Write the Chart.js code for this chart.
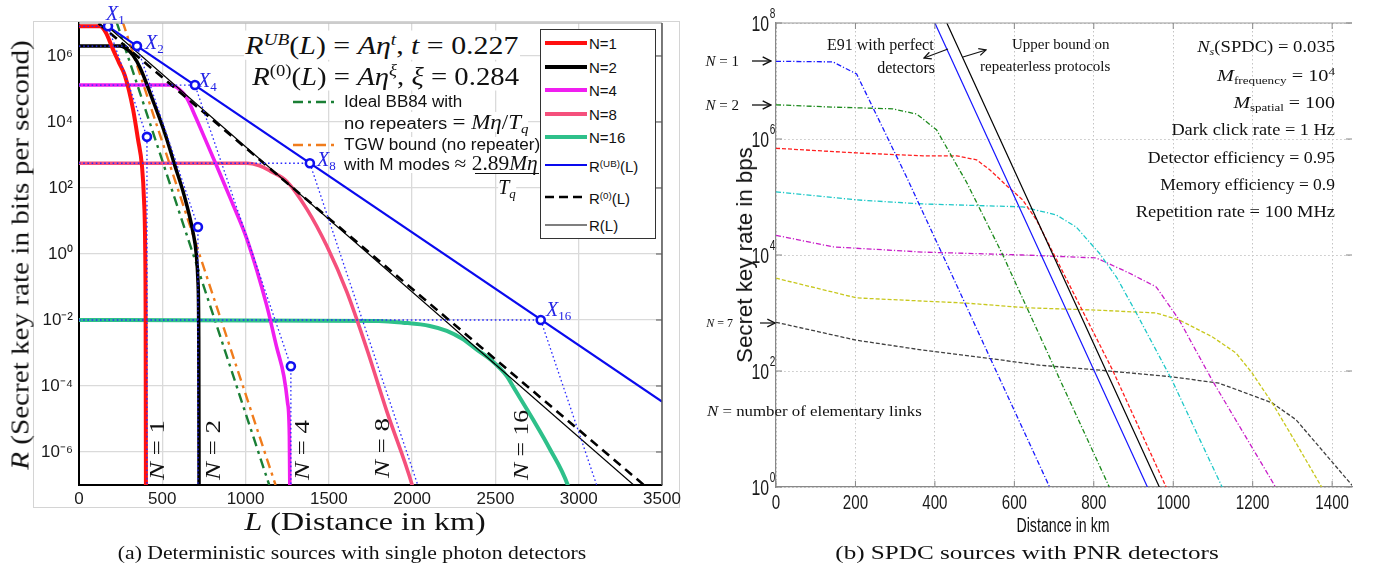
<!DOCTYPE html>
<html>
<head>
<meta charset="utf-8">
<script src="https://cdn.jsdelivr.net/npm/chart.js@4.4.1/dist/chart.umd.min.js"></script>
<style>
  body { margin: 0; background: #fff; }
  #fig { position: relative; width: 1373px; height: 571px; overflow: hidden; background: #fff; }
  #fig canvas { position: absolute; top: 0; }
  .t { position: absolute; white-space: nowrap; line-height: 1; color: #111; }
  .serif { font-family: "Liberation Serif", "DejaVu Serif", serif; }
  .sans { font-family: "Liberation Sans", Arial, sans-serif; }
  .ctr { transform: translate(-50%, -50%) scaleX(var(--sx, 1)); }
  .lft { transform-origin: left center; transform: translate(0, -50%) scaleX(var(--sx, 1)); }
  .rgt { transform-origin: right center; transform: translate(-100%, -50%) scaleX(var(--sx, 1)); }
  .rot { transform: translate(-50%, -50%) rotate(-90deg) scaleX(var(--sx, 1)); }
  .bg { background: #fff; }
  .blue { color: #2323e6; }
  sup, sub { font-size: 65%; line-height: 0; position: relative; vertical-align: baseline; }
  sup { top: -0.55em; }
  sub { top: 0.3em; }
  #frameA { position: absolute; left: 33px; top: 21px; width: 647px; height: 487px; border: 1px solid #d4d4d4; box-sizing: border-box; }
  #legA { position: absolute; left: 540px; top: 29px; width: 116px; height: 210px; border: 1.3px solid #333; background: #fff; box-sizing: border-box; }
  svg { position: absolute; left: 0; top: 0; }
</style>
</head>
<body>
<div id="fig">
  <div id="frameA"></div>
  <canvas id="chartA" width="690" height="571" style="left:0"></canvas>
  <canvas id="chartB" width="683" height="571" style="left:690px"></canvas>

  <!-- panel (a) text -->
  <div class="t serif rot" data-w="430" style="left:20px;top:255px;font-size:25px"><i>R</i> (Secret key rate in bits per second)</div>
  <div class="t serif ctr" data-w="241" style="left:365px;top:521px;font-size:25px"><i>L</i> (Distance in km)</div>
  <div class="t serif ctr" data-w="468" style="left:352px;top:553px;font-size:19.5px">(a) Deterministic sources with single photon detectors</div>

  <div class="t serif lft bg" data-w="276" style="left:244px;top:45px;font-size:25px;padding:2px 1px"><i>R</i><sup><i>UB</i></sup>(<i>L</i>) = <i>Aη</i><sup><i>t</i></sup>, <i>t</i> = 0.227</div>
  <div class="t serif lft bg" data-w="269" style="left:251px;top:76px;font-size:25px;padding:2px 1px"><i>R</i><sup>(0)</sup>(<i>L</i>) = <i>Aη</i><sup><i>ξ</i></sup>, <i>ξ</i> = 0.284</div>
  <div class="t sans lft bg" data-w="118" style="left:344px;top:102px;font-size:16px">Ideal BB84 with</div>
  <div class="t sans lft bg" data-w="184" style="left:344px;top:122px;font-size:16px">no repeaters <span class="serif" style="font-size:20px">= <i>Mη</i>/<i>T<sub>q</sub></i></span></div>
  <div class="t sans lft bg" data-w="196" style="left:344px;top:145px;font-size:16px">TGW bound (no repeater)</div>
  <div class="t sans lft bg" data-w="194" style="left:344px;top:163px;font-size:16px">with M modes <span class="serif" style="font-size:20px">≈ 2.89<i>Mη</i></span></div>
  <div style="position:absolute;left:475px;top:173px;width:64px;height:1px;background:#111"></div>
  <div class="t serif ctr bg" style="left:507px;top:187px;font-size:20px"><i>T<sub>q</sub></i></div>

  <div id="legA"></div>
  <div class="t sans lft" style="left:589px;top:43px;font-size:15px">N=1</div>
  <div class="t sans lft" style="left:589px;top:67px;font-size:15px">N=2</div>
  <div class="t sans lft" style="left:589px;top:90px;font-size:15px">N=4</div>
  <div class="t sans lft" style="left:589px;top:114px;font-size:15px">N=8</div>
  <div class="t sans lft" style="left:589px;top:137px;font-size:15px">N=16</div>
  <div class="t sans lft" style="left:589px;top:166px;font-size:15px">R<sup>(UB)</sup>(L)</div>
  <div class="t sans lft" style="left:589px;top:198px;font-size:15px">R<sup>(0)</sup>(L)</div>
  <div class="t sans lft" style="left:589px;top:225px;font-size:15px">R(L)</div>

  <div class="t serif lft blue" style="left:106px;top:13px;font-size:20px"><i>X</i><sub>1</sub></div>
  <div class="t serif lft blue" style="left:145px;top:42px;font-size:20px"><i>X</i><sub>2</sub></div>
  <div class="t serif lft blue" style="left:198px;top:80px;font-size:20px"><i>X</i><sub>4</sub></div>
  <div class="t serif lft blue" style="left:317px;top:159px;font-size:20px"><i>X</i><sub>8</sub></div>
  <div class="t serif lft blue" style="left:546px;top:309px;font-size:20px"><i>X</i><sub>16</sub></div>

  <div class="t serif rot" data-w="60" style="left:157px;top:450px;font-size:22px"><i>N</i>&nbsp;= 1</div>
  <div class="t serif rot" data-w="60" style="left:213px;top:450px;font-size:22px"><i>N</i>&nbsp;= 2</div>
  <div class="t serif rot" data-w="60" style="left:302px;top:450px;font-size:22px"><i>N</i>&nbsp;= 4</div>
  <div class="t serif rot" data-w="60" style="left:382px;top:448px;font-size:22px"><i>N</i>&nbsp;= 8</div>
  <div class="t serif rot" data-w="70" style="left:521px;top:445px;font-size:22px"><i>N</i>&nbsp;= 16</div>

  <!-- panel (b) text -->
  <div class="t sans rot" data-w="216" style="left:745px;top:255px;font-size:22px">Secret key rate in bps</div>
  <div class="t sans ctr" data-w="93" style="left:1063px;top:525px;font-size:20px">Distance in km</div>
  <div class="t serif ctr" data-w="383" style="left:1027px;top:553px;font-size:19.5px">(b) SPDC sources with PNR detectors</div>

  <div class="t serif rgt" style="left:739px;top:61px;font-size:15px"><i>N</i> = 1</div>
  <div class="t serif rgt" style="left:739px;top:105px;font-size:15px"><i>N</i> = 2</div>
  <div class="t serif rgt" style="left:733px;top:323px;font-size:12px"><i>N</i> = 7</div>
  <div class="t serif lft" style="left:827px;top:45px;font-size:16px">E91 with perfect</div>
  <div class="t serif rgt" style="left:935px;top:68px;font-size:16px">detectors</div>
  <div class="t serif lft" style="left:1012px;top:44px;font-size:15px">Upper bound on</div>
  <div class="t serif lft" style="left:980px;top:66px;font-size:15px">repeaterless protocols</div>
  <div class="t serif lft" data-w="215" style="left:707px;top:411px;font-size:15.5px"><i>N</i> = number of elementary links</div>

  <div class="t serif rgt" data-w="138" style="left:1335px;top:46px;font-size:17px"><i>N<sub>s</sub></i>(SPDC) = 0.035</div>
  <div class="t serif rgt" data-w="118" style="left:1335px;top:75px;font-size:17px"><i>M</i><sub>frequency</sub> = 10<sup>4</sup></div>
  <div class="t serif rgt" data-w="102" style="left:1335px;top:102px;font-size:17px"><i>M</i><sub>spatial</sub> = 100</div>
  <div class="t serif rgt" data-w="164" style="left:1335px;top:129px;font-size:17px">Dark click rate = 1 Hz</div>
  <div class="t serif rgt" data-w="187" style="left:1335px;top:157px;font-size:17px">Detector efficiency = 0.95</div>
  <div class="t serif rgt" data-w="175" style="left:1335px;top:184px;font-size:17px">Memory efficiency = 0.9</div>
  <div class="t serif rgt" data-w="199" style="left:1335px;top:211px;font-size:17px">Repetition rate = 100 MHz</div>

  <svg width="1373" height="571">
    <defs>
      <marker id="arr" viewBox="0 0 10 10" refX="9" refY="5" markerWidth="8" markerHeight="8" orient="auto-start-reverse">
        <path d="M1,1 L9,5 L1,9" fill="none" stroke="#111" stroke-width="1.4"/>
      </marker>
    </defs>
    <!-- legend samples, panel (a) -->
    <line x1="545" y1="43" x2="587" y2="43" stroke="#ff1010" stroke-width="4"/>
    <line x1="545" y1="67" x2="587" y2="67" stroke="#000" stroke-width="4"/>
    <line x1="545" y1="90" x2="587" y2="90" stroke="#f01ef0" stroke-width="4"/>
    <line x1="545" y1="114" x2="587" y2="114" stroke="#f5507c" stroke-width="4"/>
    <line x1="545" y1="137" x2="587" y2="137" stroke="#2ec08a" stroke-width="4"/>
    <line x1="545" y1="165" x2="587" y2="165" stroke="#0a0aee" stroke-width="2"/>
    <line x1="545" y1="197" x2="587" y2="197" stroke="#000" stroke-width="2.5" stroke-dasharray="9 5"/>
    <line x1="545" y1="225" x2="587" y2="225" stroke="#000" stroke-width="1.2"/>
    <line x1="293" y1="102" x2="339" y2="102" stroke="#1a7f35" stroke-width="2.5" stroke-dasharray="10 5 3 5"/>
    <line x1="293" y1="145" x2="339" y2="145" stroke="#f07c1c" stroke-width="2.5" stroke-dasharray="10 5 3 5"/>
    <!-- arrows, panel (b) -->
    <line x1="752" y1="61" x2="771" y2="61" stroke="#111" stroke-width="1.3" marker-end="url(#arr)"/>
    <line x1="752" y1="105" x2="771" y2="105" stroke="#111" stroke-width="1.3" marker-end="url(#arr)"/>
    <line x1="760" y1="323" x2="775" y2="323" stroke="#111" stroke-width="1.2" marker-end="url(#arr)"/>
    <line x1="948" y1="49" x2="924" y2="58" stroke="#111" stroke-width="1.1" marker-end="url(#arr)"/>
    <line x1="963" y1="57" x2="986" y2="50" stroke="#111" stroke-width="1.1" marker-end="url(#arr)"/>
  </svg>
</div>

<script>
// ---------- panel (a): deterministic sources, single photon detectors ----------
// distance in km, rate given as log10(bits per second)
const xTicksA = [0, 500, 1000, 1500, 2000, 2500, 3000, 3500];
const yTicksA = [-6, -4, -2, 0, 2, 4, 6];

const n1Km  = [0, 126, 160, 204, 240, 276, 324, 354, 378, 390, 397, 400, 402];
const n1Log = [6.9, 6.9, 6.72, 6.2, 5.8, 5.4, 4.4, 3.48, 2.67, 1.67, 0.3, -2, -8];

const n2Km  = [0, 246, 290, 324, 366, 440, 516, 576, 630, 684, 704, 714, 719, 721];
const n2Log = [6.3, 6.3, 6.2, 6.02, 5.65, 4.7, 3.65, 2.67, 1.8, 0.67, 0.0, -0.8, -2.5, -8];

const n4Km  = [0, 546, 600, 648, 700, 760, 828, 920, 1008, 1128, 1188, 1230, 1252, 1263, 1267];
const n4Log = [5.12, 5.12, 5.0, 4.72, 4.15, 3.45, 2.65, 1.55, 0.45, -1.58, -2.85, -3.7, -4.5, -5.5, -8];

const n8Km  = [0, 1008, 1080, 1146, 1248, 1368, 1488, 1608, 1728, 1850, 2000, 2010];
const n8Log = [2.75, 2.75, 2.68, 2.52, 2.2, 1.36, 0.24, -1.15, -2.88, -4.8, -7.0, -7.2];

const n16Km  = [0, 1800, 1944, 2106, 2208, 2304, 2388, 2466, 2568, 2604, 2724, 2826, 2934, 2945];
const n16Log = [-2.0, -2.03, -2.08, -2.18, -2.33, -2.58, -2.9, -3.18, -3.7, -4.0, -5.0, -5.9, -7.0, -7.2];

const rubKm = [174, 3500],  rubLog = [6.9, -4.47];    // R^(UB)(L)
const r0Km  = [117, 3410],  r0Log  = [6.99, -7.08];   // R^(0)(L)
const rlKm  = [148, 3330],  rlLog  = [7.0, -7.0];     // R(L)
const bbKm  = [225, 1142],  bbLog  = [7.04, -7.0];    // ideal BB84
const tgwKm = [262, 1180],  tgwLog = [7.04, -7.0];    // TGW bound

// dotted single-link lines from each X point
const dot1Km  = [0, 174, 408, 408],    dot1Log  = [6.9, 6.9, 3.55, -8];
const dot2Km  = [0, 348, 714, 714],    dot2Log  = [6.3, 6.3, 0.82, -8];
const dot4Km  = [0, 696, 1272, 1272],  dot4Log  = [5.12, 5.12, -3.4, -8];
const dot8Km  = [0, 1386, 2047],       dot8Log  = [2.75, 2.75, -7.2];
const dot16Km = [0, 2772, 3121],       dot16Log = [-2.0, -2.0, -7.2];

const xMarkKm = [174, 348, 696, 1386, 2772], xMarkLog = [6.9, 6.3, 5.12, 2.75, -2.0];
const endKm   = [408, 714, 1272],            endLog   = [3.55, 0.82, -3.4];

// ---------- panel (b): SPDC sources, PNR detectors ----------
const xTicksB = [0, 200, 400, 600, 800, 1000, 1200, 1400];
const yTicksB = [0, 2, 4, 6, 8];

const b1Km  = [0, 143, 203, 329, 450, 692];
const b1Log = [7.34, 7.33, 7.12, 5.34, 3.55, -0.05];
const b2Km  = [0, 143, 294, 354, 404, 480, 571, 631, 841];
const b2Log = [6.59, 6.55, 6.52, 6.43, 6.16, 5.25, 4.0, 3.1, -0.03];
const b3Km  = [0, 203, 370, 455, 505, 538, 580, 621, 656, 847, 984];
const b3Log = [5.84, 5.76, 5.71, 5.71, 5.64, 5.47, 5.2, 4.95, 4.6, 2.02, -0.03];
const b4Km  = [0, 203, 370, 621, 706, 756, 814, 857, 907, 997, 1125];
const b4Log = [5.09, 4.95, 4.88, 4.83, 4.69, 4.48, 4.03, 3.62, 3.0, 1.84, -0.03];
const b5Km  = [0, 143, 370, 621, 806, 889, 957, 1015, 1098, 1183, 1260];
const b5Log = [4.34, 4.14, 4.05, 4.0, 3.95, 3.69, 3.45, 2.88, 1.84, 0.86, -0.03];
const b6Km  = [0, 203, 480, 631, 806, 957, 1015, 1098, 1158, 1198, 1249, 1309, 1376];
const b6Log = [3.6, 3.26, 3.17, 3.09, 3.05, 3.0, 2.88, 2.59, 2.31, 1.97, 1.45, 0.76, -0.03];
const b7Km  = [0, 203, 370, 545, 663, 806, 997, 1115, 1183, 1249, 1309, 1374, 1450];
const b7Log = [2.84, 2.53, 2.36, 2.21, 2.1, 2.02, 1.9, 1.79, 1.62, 1.45, 1.16, 0.64, 0.03];
const e91Km = [400, 935], e91Log = [8.0, 0.0];      // E91 with perfect detectors
const ubKm  = [430, 965], ubLog  = [8.0, 0.0];      // repeaterless upper bound

// ---------- helpers ----------
const SUP = { '0': '⁰', '1': '¹', '2': '²', '3': '³', '4': '⁴', '5': '⁵', '6': '⁶', '7': '⁷', '8': '⁸', '9': '⁹', '-': '⁻' };
const pow10Label = v => '10' + String(Math.round(Math.log10(v))).split('').map(c => SUP[c]).join('');
const pts = (xs, ls) => xs.map((x, i) => ({ x: x, y: Math.pow(10, ls[i]) }));

function line(xs, ls, color, width, extra) {
  return Object.assign({
    data: pts(xs, ls), borderColor: color, borderWidth: width,
    pointRadius: 0, fill: false, tension: 0
  }, extra || {});
}
const smooth = { cubicInterpolationMode: 'monotone' };
const dotted = { borderDash: [1.6, 2.6] };
const marks = (xs, ls) => ({
  data: pts(xs, ls), showLine: false, pointRadius: 4, pointBorderWidth: 2.6,
  pointBorderColor: '#1010f0', pointBackgroundColor: '#fff', borderColor: '#1010f0'
});

// frame lines and inward ticks, taken from the chart's own scales
function framePlugin(opts) {
  return {
    id: 'frame',
    afterDraw(chart) {
      const { ctx, chartArea: a, scales } = chart;
      ctx.save();
      ctx.lineWidth = opts.width;
      ctx.strokeStyle = opts.topColor;
      ctx.beginPath(); ctx.moveTo(a.left, a.top); ctx.lineTo(a.right, a.top); ctx.stroke();
      if (opts.rightLine) {
        ctx.strokeStyle = opts.rightColor;
        ctx.beginPath(); ctx.moveTo(a.right, a.top); ctx.lineTo(a.right, a.bottom); ctx.stroke();
      }
      ctx.strokeStyle = opts.tickColor;
      ctx.lineWidth = 1;
      ctx.beginPath();
      opts.yTicks.forEach(e => {
        const y = scales.y.getPixelForValue(Math.pow(10, e));
        ctx.moveTo(a.right, y); ctx.lineTo(a.right - 6, y);
        if (opts.leftTicks) { ctx.moveTo(a.left, y); ctx.lineTo(a.left + 6, y); }
      });
      if (opts.xTickMarks) {
        opts.xTicks.forEach(v => {
          const x = scales.x.getPixelForValue(v);
          ctx.moveTo(x, a.bottom); ctx.lineTo(x, a.bottom - 6);
          ctx.moveTo(x, a.top); ctx.lineTo(x, a.top + 6);
        });
      }
      ctx.stroke();
      ctx.restore();
    }
  };
}

// narrow tick labels for panel (b), "10" with a raised exponent
const narrowTicks = {
  id: 'narrowTicks',
  afterDraw(chart) {
    const { ctx, chartArea: a, scales } = chart;
    ctx.save();
    ctx.fillStyle = '#1a1a1a';
    ctx.textBaseline = 'middle';
    xTicksB.forEach(v => {
      const x = scales.x.getPixelForValue(v);
      ctx.save(); ctx.translate(x, a.bottom + 16); ctx.scale(0.72, 1);
      ctx.font = "21px 'Liberation Sans'"; ctx.textAlign = 'center';
      ctx.fillText(String(v), 0, 0);
      ctx.restore();
    });
    yTicksB.forEach(e => {
      const y = scales.y.getPixelForValue(Math.pow(10, e));
      ctx.save(); ctx.translate(a.left - 7, y + 2); ctx.scale(0.72, 1);
      ctx.font = "22px 'Liberation Sans'"; ctx.textAlign = 'right';
      ctx.fillText('10', 0, 0);
      ctx.font = "14px 'Liberation Sans'"; ctx.textAlign = 'left';
      ctx.fillText(String(e), 1, -11);
      ctx.restore();
    });
    ctx.restore();
  }
};

// ---------- chart (a) ----------
new Chart(document.getElementById('chartA'), {
  type: 'line',
  data: {
    datasets: [
      marks(xMarkKm, xMarkLog),
      marks(endKm, endLog),
      line(dot1Km, dot1Log, '#2a2aff', 1.3, dotted),
      line(dot2Km, dot2Log, '#2a2aff', 1.3, dotted),
      line(dot4Km, dot4Log, '#2a2aff', 1.3, dotted),
      line(dot8Km, dot8Log, '#2a2aff', 1.3, dotted),
      line(dot16Km, dot16Log, '#2a2aff', 1.3, dotted),
      line(rlKm, rlLog, '#000', 1.2),
      line(r0Km, r0Log, '#000', 2.6, { borderDash: [9, 6] }),
      line(rubKm, rubLog, '#0a0aee', 2.2),
      line(n1Km, n1Log, '#ff1010', 4, smooth),
      line(n2Km, n2Log, '#000', 3.5, smooth),
      line(n4Km, n4Log, '#f01ef0', 3.6, smooth),
      line(n8Km, n8Log, '#f5507c', 3.6, smooth),
      line(n16Km, n16Log, '#2ec08a', 4, smooth),
      line(tgwKm, tgwLog, '#f07c1c', 2.4, { borderDash: [10, 5, 3, 5] }),
      line(bbKm, bbLog, '#1a7f35', 2.4, { borderDash: [10, 5, 3, 5] })
    ]
  },
  options: {
    responsive: false, animation: false, events: [],
    layout: { padding: { left: 0, top: 23, right: 28, bottom: 56 } },
    plugins: { legend: { display: false }, tooltip: { enabled: false } },
    scales: {
      x: {
        type: 'linear', min: 0, max: 3500,
        afterFit: s => { s.height = 30; },
        afterBuildTicks: s => { s.ticks = xTicksA.map(v => ({ value: v })); },
        ticks: { maxRotation: 0, autoSkip: false, padding: 4, color: '#1a1a1a',
                 callback: v => String(v),
                 font: { family: 'Liberation Sans', size: 17 } },
        grid: { color: '#dadada', lineWidth: 1.3, drawTicks: false },
        border: { color: '#000', width: 2 }
      },
      y: {
        type: 'logarithmic', min: 1e-7, max: 1e7,
        afterFit: s => { s.width = 79; },
        afterBuildTicks: s => { s.ticks = yTicksA.map(e => ({ value: Math.pow(10, e) })); },
        ticks: { padding: 6, color: '#1a1a1a', callback: v => pow10Label(v),
                 font: { family: 'Liberation Sans', size: 17 } },
        grid: { color: '#dadada', lineWidth: 1.3, drawTicks: false },
        border: { color: '#000', width: 2 }
      }
    }
  },
  plugins: [framePlugin({ width: 1.5, topColor: '#bbb', rightLine: true, rightColor: '#555',
                          tickColor: '#555', yTicks: yTicksA, xTicks: xTicksA, leftTicks: false, xTickMarks: false })]
});

// ---------- chart (b) ----------
const dashDot = [5, 2, 1.2, 2];
const dashed = [4, 2];
new Chart(document.getElementById('chartB'), {
  type: 'line',
  data: {
    datasets: [
      line(e91Km, e91Log, '#1515ff', 1.2),
      line(ubKm, ubLog, '#000', 1.2),
      line(b1Km, b1Log, '#1a1aff', 1.3, { borderDash: dashDot }),
      line(b2Km, b2Log, '#1c8a1c', 1.3, { borderDash: dashDot }),
      line(b3Km, b3Log, '#ff2020', 1.3, { borderDash: dashed }),
      line(b4Km, b4Log, '#1ec8c8', 1.3, { borderDash: dashDot }),
      line(b5Km, b5Log, '#c81ec8', 1.3, { borderDash: dashDot }),
      line(b6Km, b6Log, '#c8c81e', 1.3, { borderDash: dashed }),
      line(b7Km, b7Log, '#404040', 1.3, { borderDash: dashed })
    ]
  },
  options: {
    responsive: false, animation: false, events: [],
    layout: { padding: { left: 0, top: 23, right: 21, bottom: 54 } },
    plugins: { legend: { display: false }, tooltip: { enabled: false } },
    scales: {
      x: {
        type: 'linear', min: 0, max: 1450,
        afterFit: s => { s.height = 30; },
        afterBuildTicks: s => { s.ticks = xTicksB.map(v => ({ value: v })); },
        ticks: { display: false },
        grid: { color: '#c4c4c4', lineWidth: 1, drawTicks: false },
        border: { color: '#888', width: 1.2, dash: [1.5, 2.5] }
      },
      y: {
        type: 'logarithmic', min: 1, max: 1e8,
        afterFit: s => { s.width = 86; },
        afterBuildTicks: s => { s.ticks = yTicksB.map(e => ({ value: Math.pow(10, e) })); },
        ticks: { display: false },
        grid: { color: '#c4c4c4', lineWidth: 1, drawTicks: false },
        border: { color: '#888', width: 1.2, dash: [1.5, 2.5] }
      }
    }
  },
  plugins: [framePlugin({ width: 1.2, topColor: '#999', rightLine: false, rightColor: '#999',
                          tickColor: '#888', yTicks: yTicksB, xTicks: xTicksB, leftTicks: true, xTickMarks: true }),
            narrowTicks]
});

// stretch the serif / sans labels to the widths measured on the reference
function fitText() {
  document.querySelectorAll('[data-w]').forEach(el => {
    const w = el.offsetWidth;
    if (w > 0) el.style.setProperty('--sx', (Number(el.dataset.w) / w).toFixed(4));
  });
}
fitText();
if (document.fonts && document.fonts.ready) document.fonts.ready.then(fitText);
</script>
</body>
</html>
